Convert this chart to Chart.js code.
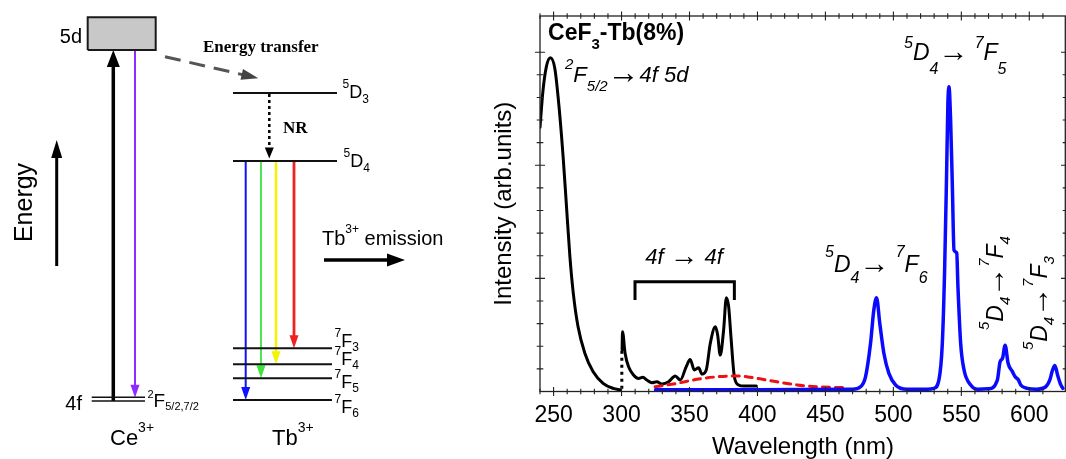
<!DOCTYPE html>
<html>
<head>
<meta charset="utf-8">
<script src="https://cdn.jsdelivr.net/npm/chart.js@4.4.1/dist/chart.umd.min.js"></script>
<style>
  body { margin: 0; background: #fff; width: 1066px; height: 459px; overflow: hidden; position: relative; }
  .pane { position: absolute; top: 0; height: 459px; }
</style>
</head>
<body>
<div class="pane" style="left:0;width:480px"><canvas id="scheme"></canvas></div>
<div class="pane" style="left:480px;width:586px"><canvas id="spectrum"></canvas></div>
<script>
const SANS = '"Liberation Sans", Arial, Helvetica, sans-serif';
const SERIF = '"Liberation Serif", "Times New Roman", serif';
Chart.defaults.color = '#000';
Chart.defaults.font.family = SANS;

// ---------- spectrum data (wavelength nm / intensity, arb. units) ----------
const xTickLabels = [250, 300, 350, 400, 450, 500, 550, 600];

// Ce3+ excitation 2F5/2 -> 4f5d
const excWl = [240, 242.2, 244.7, 247.6, 250.9, 254, 257, 259.5, 262, 264.5, 268, 273, 279, 286.4, 293.8, 299.2];
const excInt = [11.68, 13.3, 14.36, 14.75, 14.28, 12.59, 10.38, 8.17, 5.96, 4.34, 2.86, 1.69, 0.88, 0.36, 0.14, 0.07];

// Tb3+ 4f -> 4f excitation lines
const ffWl = [300.4, 300.7, 302.6, 305.1, 308.8, 312.4, 315.7, 318.6, 322.3, 326, 329.7, 334.6, 339.5, 343.2, 347.6, 350.5, 353.5, 356.7, 359.2, 362.3, 365.3, 369, 370.7, 372.6, 375.1, 377.1, 378.8, 380.5, 383, 386.1, 389.8, 399.2];
const ffInt = [1.85, 2.64, 1.69, 1.10, 0.73, 0.58, 0.63, 0.51, 0.39, 0.43, 0.33, 0.43, 0.69, 0.51, 1.10, 1.42, 0.95, 1.05, 0.77, 0.95, 2.13, 2.86, 2.50, 1.61, 2.72, 4.15, 3.75, 2.42, 0.65, 0.29, 0.24, 0.24];

// joint between the two excitation ranges (dotted)
const gapWl = [300.2, 300.2];
const gapInt = [0.12, 1.85];

// Ce3+ emission band (red dashed)
const ceEmWl = [324.7, 340.7, 355.5, 370.2, 385, 399.7, 414.4, 429.2, 443.9, 458.6, 465];
const ceEmInt = [0.21, 0.36, 0.54, 0.65, 0.69, 0.58, 0.43, 0.29, 0.21, 0.18, 0.17];

// Tb3+ emission 5D4 -> 7FJ (blue)
const tbEmWl = [325, 400, 470, 475.8, 479.5, 483.2, 485.6, 487.6, 490, 493, 496.7, 501.6, 510, 525, 529.8, 533.5, 536, 537.7, 539.2, 540.1, 540.9, 542.1, 543.4, 544.6, 546.6, 547.5, 549.5, 552, 556.9, 562, 570, 576.5, 578.5, 580.3, 582.2, 584.4, 587.6, 589.6, 592, 593.7, 598.6, 605, 612.1, 615.1, 617.1, 618.8, 620.8, 623.2, 624.7];
const tbEmInt = [0.08, 0.08, 0.1, 0.21, 0.65, 2.13, 3.6, 4.15, 3.01, 1.69, 0.8, 0.29, 0.1, 0.1, 0.14, 0.51, 2.13, 5.37, 9.79, 12.74, 13.47, 12.0, 9.05, 6.25, 6.13, 4.63, 2.13, 0.95, 0.29, 0.1, 0.12, 0.51, 1.32, 1.47, 2.05, 1.25, 0.88, 0.65, 0.51, 0.29, 0.14, 0.1, 0.21, 0.51, 0.95, 1.15, 0.73, 0.29, 0.14];

// bracket over the 4f-4f lines
const bracketWl = [309.9, 309.9, 383, 383];
const bracketInt = [4.04, 4.85, 4.85, 4.04];

// ---------- energy level scheme (schematic energy, arb. units) ----------
const ce5dBand = [409, 441.7];      // bottom, top
const ce4fLevels = [61.7, 58];      // 2F5/2, 2F7/2
const tbLevelNames = ['5D3', '5D4', '7F3', '7F4', '7F5', '7F6'];
const tbLevels = [366, 298, 110.7, 94.7, 80.7, 59];
const tbEmissionTo = ['7F6', '7F5', '7F4', '7F3'];
const tbEmissionColors = ['#1010ff', '#3ce43c', '#f4f400', '#ee2222'];
const energyArrow = [193, 319];

const pts = (xs, ys) => xs.map((x, i) => ({ x, y: ys[i] }));
const seg = (x1, y1, x2, y2) => [{ x: x1, y: y1 }, { x: x2, y: y2 }];
const lvl = name => tbLevels[tbLevelNames.indexOf(name)];

// draws text with superscripts / subscripts / enlarged arrows
function richText(ctx, x, y, parts, f) {
  const family = f.family || SANS;
  const style = f.style || '';
  const sizeOf = k => k === 'arr' ? f.size * (f.arr || 1.35) : k ? f.small : f.size;
  let w = 0;
  const items = parts.map(([t, k]) => {
    const sz = sizeOf(k);
    ctx.font = `${k === 'arr' ? '' : style} ${sz}px ${family}`;
    const it = { t, k, sz, x: w };
    w += ctx.measureText(t).width;
    return it;
  });
  const x0 = f.align === 'center' ? -w / 2 : f.align === 'right' ? -w : 0;
  ctx.save();
  ctx.translate(x, y);
  if (f.rotate) ctx.rotate(f.rotate * Math.PI / 180);
  ctx.fillStyle = '#000';
  ctx.textBaseline = 'alphabetic';
  ctx.textAlign = 'left';
  items.forEach(it => {
    ctx.font = `${it.k === 'arr' ? '' : style} ${it.sz}px ${family}`;
    const dy = it.k === 'sup' ? -(f.rise || 0) : it.k === 'sub' ? (f.drop || 0) : it.k === 'arr' ? 1 : 0;
    ctx.fillText(it.t, x0 + it.x, dy);
  });
  ctx.restore();
}

// ---------- left: level scheme ----------
const COL = {
  box: [87.7, 155.7], ce4f: [91.7, 145], up: 113.3, down: 135,
  tbD: [233, 337], tbF: [233, 332], nr: 269.3, emis: [245.7, 261, 276, 294],
  energyX: 56.7
};

const schemeLabels = [
  { x: 82, e: 415.7, parts: [['5d', '']], size: 20, align: 'right' },
  { x: 82, e: 49, parts: [['4f', '']], size: 20, align: 'right' },
  { x: 147.5, e: 52, parts: [['2', 'sup'], ['F', ''], ['5/2,7/2', 'sub']], size: 19, small: 11, rise: 9, drop: 3 },
  { x: 110, e: 14, parts: [['Ce', ''], ['3+', 'sup']], size: 22, small: 14, rise: 13 },
  { x: 272, e: 14, parts: [['Tb', ''], ['3+', 'sup']], size: 22, small: 14, rise: 13 },
  { x: 342.5, e: 360.7, parts: [['5', 'sup'], ['D', ''], ['3', 'sub']], size: 18, small: 12, rise: 10, drop: 5 },
  { x: 343.5, e: 292.3, parts: [['5', 'sup'], ['D', ''], ['4', 'sub']], size: 18, small: 12, rise: 10, drop: 5 },
  { x: 334.5, e: 112.3, parts: [['7', 'sup'], ['F', ''], ['3', 'sub']], size: 18, small: 12, rise: 10, drop: 4 },
  { x: 334.5, e: 94, parts: [['7', 'sup'], ['F', ''], ['4', 'sub']], size: 18, small: 12, rise: 10, drop: 4 },
  { x: 334.5, e: 70.7, parts: [['7', 'sup'], ['F', ''], ['5', 'sub']], size: 18, small: 12, rise: 10, drop: 4 },
  { x: 334.5, e: 45.7, parts: [['7', 'sup'], ['F', ''], ['6', 'sub']], size: 18, small: 12, rise: 10, drop: 4 },
  { x: 322, e: 214, parts: [['Tb', ''], ['3+', 'sup'], [' emission', '']], size: 20, small: 12, rise: 12 },
  { x: 203, e: 407.3, parts: [['Energy transfer', '']], size: 17, family: SERIF, style: 'bold' },
  { x: 283, e: 326.5, parts: [['NR', '']], size: 17, family: SERIF, style: 'bold' },
  { x: 32, e: 256.5, parts: [['Energy', '']], size: 25, rotate: -90, align: 'center' }
];

function headGeom(elems, head) {
  const p1 = elems[elems.length - 2], p2 = elems[elems.length - 1];
  const dx = p2.x - p1.x, dy = p2.y - p1.y, d = Math.hypot(dx, dy);
  const ux = dx / d, uy = dy / d;
  return { tx: p2.x, ty: p2.y, ux, uy, nx: -uy, ny: ux,
           bx: p2.x - ux * head.len, by: p2.y - uy * head.len };
}

const arrowHeads = {
  id: 'arrowHeads',
  beforeDatasetDraw(chart, args) {
    const ds = chart.data.datasets[args.index];
    if (!ds.head) return;
    const g = headGeom(args.meta.data, ds.head);
    const ctx = chart.ctx, L = 3000;
    const cx = g.bx + g.ux * 1, cy = g.by + g.uy * 1;
    ctx.save();
    ctx.beginPath();
    ctx.moveTo(cx + g.nx * L, cy + g.ny * L);
    ctx.lineTo(cx - g.nx * L, cy - g.ny * L);
    ctx.lineTo(cx - g.nx * L - g.ux * L, cy - g.ny * L - g.uy * L);
    ctx.lineTo(cx + g.nx * L - g.ux * L, cy + g.ny * L - g.uy * L);
    ctx.closePath();
    ctx.clip();
  },
  afterDatasetDraw(chart, args) {
    const ds = chart.data.datasets[args.index];
    if (!ds.head) return;
    const ctx = chart.ctx;
    ctx.restore();
    const g = headGeom(args.meta.data, ds.head);
    const hw = ds.head.w / 2;
    ctx.save();
    ctx.fillStyle = ds.head.color || ds.borderColor;
    ctx.beginPath();
    ctx.moveTo(g.tx, g.ty);
    ctx.lineTo(g.bx + g.nx * hw, g.by + g.ny * hw);
    ctx.lineTo(g.bx - g.nx * hw, g.by - g.ny * hw);
    ctx.closePath();
    ctx.fill();
    ctx.restore();
  }
};

const schemeText = {
  id: 'schemeText',
  afterDraw(chart) {
    const { ctx, scales: { x, y } } = chart;
    schemeLabels.forEach(l => richText(ctx, x.getPixelForValue(l.x), y.getPixelForValue(l.e), l.parts, l));
  }
};

const schemeSets = [];
// Ce3+ 5d band
schemeSets.push({
  data: [{ x: COL.box[0], y: ce5dBand[0] }, { x: COL.box[1], y: ce5dBand[0] }, { x: COL.box[1], y: ce5dBand[1] },
         { x: COL.box[0], y: ce5dBand[1] }, { x: COL.box[0], y: ce5dBand[0] }],
  borderColor: '#1a1a1a', borderWidth: 2, backgroundColor: '#c8c8c8', fill: 'shape'
});
ce4fLevels.forEach(e => schemeSets.push({ data: seg(COL.ce4f[0], e, COL.ce4f[1], e), borderColor: '#111', borderWidth: 1.5 }));
schemeSets.push({ data: seg(COL.up, ce4fLevels[1], COL.up, ce5dBand[0]), borderColor: '#000', borderWidth: 3.5, head: { len: 17, w: 13 } });
schemeSets.push({ data: seg(COL.down, ce5dBand[0], COL.down, ce4fLevels[0] - 0.5), borderColor: '#8e2cff', borderWidth: 2, head: { len: 13, w: 9 } });
tbLevels.forEach((e, i) => {
  const r = tbLevelNames[i][0] === '5' ? COL.tbD : COL.tbF;
  schemeSets.push({ data: seg(r[0], e, r[1], e), borderColor: '#111', borderWidth: 2 });
});
schemeSets.push({ data: seg(COL.nr, lvl('5D3') - 1, COL.nr, lvl('5D4') + 2.5), borderColor: '#000', borderWidth: 2.5, borderDash: [3, 3], head: { len: 11, w: 9 } });
tbEmissionTo.forEach((t, i) => schemeSets.push({
  data: seg(COL.emis[i], lvl('5D4'), COL.emis[i], lvl(t)),
  borderColor: tbEmissionColors[i], borderWidth: [2, 1.8, 2.5, 2.8][i], head: { len: 13, w: 9 }
}));
schemeSets.push({ data: seg(COL.energyX, energyArrow[0], COL.energyX, energyArrow[1]), borderColor: '#000', borderWidth: 3, head: { len: 18, w: 11 } });
schemeSets.push({ data: seg(165, 402.3, 258.3, 380.7), borderColor: '#555', borderWidth: 3, borderDash: [16, 9], head: { len: 17, w: 11, color: '#444' } });
schemeSets.push({ data: seg(324, 199, 405, 199), borderColor: '#000', borderWidth: 3.5, head: { len: 18, w: 13 } });

new Chart(document.getElementById('scheme'), {
  type: 'line',
  data: { datasets: schemeSets },
  options: {
    animation: false, responsive: true, maintainAspectRatio: false, events: [],
    layout: { padding: 0 },
    elements: { point: { radius: 0 }, line: { tension: 0, borderCapStyle: 'butt' } },
    plugins: { legend: { display: false }, tooltip: { enabled: false } },
    scales: {
      x: { type: 'linear', min: 0, max: 480, display: false },
      y: { type: 'linear', min: 0, max: 459, display: false }
    }
  },
  plugins: [arrowHeads, schemeText]
});

// ---------- right: spectrum ----------
const specLabels = [
  { at: [245.9, 15.54], parts: [['CeF', ''], ['3', 'sub'], ['-Tb(8%)', '']], style: 'bold', size: 23, small: 15, drop: 9 },
  { at: [258.4, 13.7], parts: [['2', 'sup'], ['F', ''], ['5/2', 'sub'], ['\u2192', 'arr'], ['4f 5d', '']], style: 'italic', size: 22, small: 15, rise: 13, drop: 9.5, arr: 1.45 },
  { at: [507.8, 14.65], parts: [['5', 'sup'], ['D', ''], ['4', 'sub'], ['\u2192', 'arr'], [' ', ''], ['7', 'sup'], ['F', ''], ['5', 'sub']], style: 'italic', size: 23, small: 16, rise: 12.5, drop: 14, arr: 1.3 },
  { at: [346, 5.64], parts: [['4f ', ''], ['\u2192', 'arr'], [' 4f', '']], style: 'italic', size: 22, align: 'center', arr: 1.3 },
  { at: [449.7, 5.3], parts: [['5', 'sup'], ['D', ''], ['4', 'sub'], ['\u2192', 'arr'], [' ', ''], ['7', 'sup'], ['F', ''], ['6', 'sub']], style: 'italic', size: 23, small: 16, rise: 14.5, drop: 11.5, arr: 1.3 },
  { at: [580.7, 2.72], parts: [['5', 'sup'], ['D', ''], ['4', 'sub'], ['\u2192', 'arr'], ['7', 'sup'], ['F', ''], ['4', 'sub']], style: 'italic', size: 23, small: 15, rise: 14, drop: 7, rotate: -90, arr: 1.3 },
  { at: [613.1, 1.83], parts: [['5', 'sup'], ['D', ''], ['4', 'sub'], ['\u2192', 'arr'], ['7', 'sup'], ['F', ''], ['3', 'sub']], style: 'italic', size: 23, small: 15, rise: 14, drop: 7, rotate: -90, arr: 1.3 }
];

const frameTicks = {
  id: 'frameTicks',
  afterDraw(chart) {
    const { ctx, chartArea: a, scales: { x, y } } = chart;
    ctx.save();
    ctx.strokeStyle = '#222';
    ctx.lineWidth = 1.3;
    ctx.strokeRect(a.left, a.top, a.right - a.left - 0.7, a.bottom - a.top);
    ctx.lineWidth = 1.1;
    ctx.beginPath();
    x.ticks.forEach(t => {
      if (t.value % 10 !== 0) return;
      const p = x.getPixelForValue(t.value);
      const h = t.value % 50 === 0 ? 4.5 : 2.8;
      ctx.moveTo(p, a.bottom - h); ctx.lineTo(p, a.bottom + h);
      ctx.moveTo(p, a.top - h); ctx.lineTo(p, a.top + h);
    });
    y.ticks.forEach(t => {
      if (!Number.isInteger(t.value) || t.value === 0) return;
      const p = y.getPixelForValue(t.value);
      const h = t.value % 5 === 0 ? 5 : 3.3;
      ctx.moveTo(a.left - h, p); ctx.lineTo(a.left + h, p);
      ctx.moveTo(a.right - h, p); ctx.lineTo(a.right, p);
    });
    ctx.stroke();
    ctx.restore();
    specLabels.forEach(l => richText(ctx, x.getPixelForValue(l.at[0]), y.getPixelForValue(l.at[1]), l.parts, l));
  }
};

new Chart(document.getElementById('spectrum'), {
  type: 'line',
  data: {
    datasets: [
      { label: 'Tb3+ emission', data: pts(tbEmWl, tbEmInt), borderColor: '#0a0aff', borderWidth: 3.5, cubicInterpolationMode: 'monotone' },
      { label: 'Ce3+ emission', data: pts(ceEmWl, ceEmInt), borderColor: '#ee1111', borderWidth: 3, borderDash: [7, 6], cubicInterpolationMode: 'monotone' },
      { label: 'excitation 4f5d', data: pts(excWl, excInt), borderColor: '#000', borderWidth: 3, cubicInterpolationMode: 'monotone' },
      { label: 'excitation 4f-4f', data: pts(ffWl, ffInt), borderColor: '#000', borderWidth: 3, cubicInterpolationMode: 'monotone' },
      { label: 'joint', data: pts(gapWl, gapInt), borderColor: '#000', borderWidth: 3, borderDash: [3, 4], borderCapStyle: 'butt' },
      { label: 'bracket', data: pts(bracketWl, bracketInt), borderColor: '#000', borderWidth: 3, borderJoinStyle: 'miter', borderCapStyle: 'butt' }
    ]
  },
  options: {
    animation: false, responsive: true, maintainAspectRatio: false, events: [],
    layout: { padding: { top: 16, right: 0, left: 0, bottom: 0 } },
    elements: { point: { radius: 0 }, line: { tension: 0, borderCapStyle: 'round', borderJoinStyle: 'round' } },
    plugins: { legend: { display: false }, tooltip: { enabled: false } },
    scales: {
      x: {
        type: 'linear', min: 240, max: 627,
        // invisible grid: only reserves the gap between axis and labels
        grid: { display: true, drawOnChartArea: false, drawTicks: true, tickLength: 10.5, color: 'rgba(0,0,0,0)' },
        border: { display: false },
        ticks: {
          stepSize: 10, autoSkip: false, maxRotation: 0, padding: 0, color: '#000',
          font: { size: 23, family: SANS },
          callback: v => xTickLabels.includes(v) ? String(v) : ''
        },
        title: { display: true, text: 'Wavelength (nm)', color: '#000', font: { size: 24, family: SANS, lineHeight: 1 }, padding: { top: 0, bottom: 0 } },
        afterFit: s => { s.height = 67.5; }
      },
      y: {
        type: 'linear', min: 0, max: 16.6,
        grid: { display: false }, border: { display: false },
        ticks: { display: false, stepSize: 1 },
        title: { display: true, text: 'Intensity (arb.units)', color: '#000', font: { size: 24, family: SANS }, padding: { top: 10, bottom: 0 } },
        afterFit: s => { s.width = 60; }
      }
    }
  },
  plugins: [frameTicks]
});
</script>
</body>
</html>
